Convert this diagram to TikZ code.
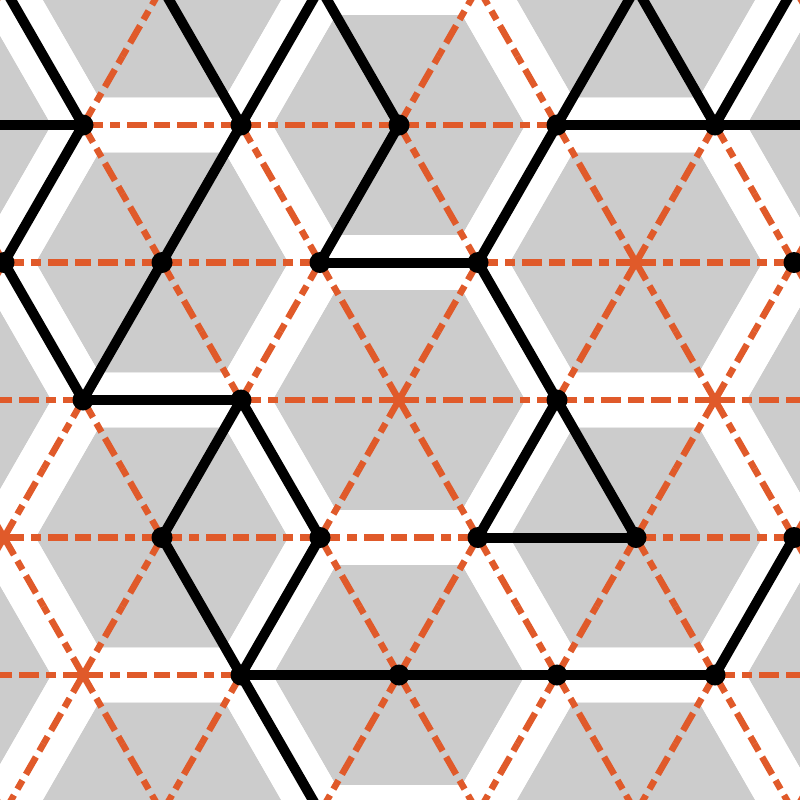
\documentclass[tikz,border=0pt]{standalone}
\usetikzlibrary{calc}
\definecolor{bggray}{HTML}{CCCCCC}
\definecolor{lorange}{HTML}{E05A2A}
\tikzset{
  band/.style={draw=white, line width=41pt, line join=miter},
  latt/.style={draw=lorange, line width=4.9pt, dash pattern=on 15pt off 5.25pt on 7.5pt off 5.25pt},
  bond/.style={draw=black, line width=7.5pt, line cap=round, line join=round},
  site/.style={circle, fill=black, inner sep=0pt, minimum size=15.75pt},
}
\begin{document}
\begin{tikzpicture}[x=0.75pt,y=-0.75pt]
\fill[bggray] (0,0) rectangle (800,800);
\useasboundingbox (0,0) rectangle (800,800);
\clip (0,0) rectangle (800,800);
% lattice sites, named v<n>r<row>
\foreach \r in {-2,...,8}{
  \foreach \n in {-6,...,16}{
    \pgfmathtruncatemacro\pty{mod(abs(\n-\r),2)}
    \ifnum\pty=0
      \coordinate (v\n r\r) at ({4+79*\n},{-12.5+137.5*\r});
    \fi
  }
}
% white bands: hexagons around the A sublattice
\foreach \n/\r in {-4/0,2/0,8/0,14/0,-4/2,2/2,8/2,14/2,-4/4,2/4,8/4,14/4,-4/6,2/6,8/6,14/6,
                   -1/-1,5/-1,11/-1,-1/1,5/1,11/1,-1/3,5/3,11/3,-1/5,5/5,11/5,-1/7,5/7,11/7}{
  \pgfmathtruncatemacro\na{\n+2}
  \pgfmathtruncatemacro\nb{\n+1}
  \pgfmathtruncatemacro\nc{\n-1}
  \pgfmathtruncatemacro\nd{\n-2}
  \pgfmathtruncatemacro\ru{\r-1}
  \pgfmathtruncatemacro\rd{\r+1}
  \draw[band] (v\na r\r) -- (v\nb r\ru) -- (v\nc r\ru) -- (v\nd r\r) -- (v\nc r\rd) -- (v\nb r\rd) -- cycle;
}
% orange dashed lattice, drawn in halves from each site
\foreach \r in {-1,...,7}{
  \foreach \n in {-3,...,13}{
    \pgfmathtruncatemacro\pty{mod(abs(\n-\r),2)}
    \ifnum\pty=0
      \pgfmathtruncatemacro\na{\n+2}
      \pgfmathtruncatemacro\nb{\n+1}
      \pgfmathtruncatemacro\nc{\n-1}
      \pgfmathtruncatemacro\nd{\n-2}
      \pgfmathtruncatemacro\ru{\r-1}
      \pgfmathtruncatemacro\rd{\r+1}
      \foreach \a/\b in {\na/\r,\nd/\r,\nb/\ru,\nc/\ru,\nb/\rd,\nc/\rd}{
        \draw[latt] (v\n r\r) -- ($(v\n r\r)!0.5!(v\a r\b)$);
      }
    \fi
  }
}
% black bonds
\foreach \a/\b in {0r0/1r1, -1r1/1r1, 1r1/0r2, 2r0/3r1, 3r1/4r0, 3r1/2r2,
                   2r2/1r3, 0r2/1r3, 4r0/5r1, 5r1/4r2, 4r2/6r2, 6r2/7r1,
                   7r1/9r1, 7r1/8r0, 8r0/9r1, 9r1/10r0, 9r1/11r1, 6r2/7r3,
                   7r3/6r4, 6r4/8r4, 8r4/7r3, 1r3/3r3, 3r3/2r4, 3r3/4r4,
                   2r4/3r5, 4r4/3r5, 3r5/5r5, 5r5/7r5, 7r5/9r5, 9r5/10r4,
                   3r5/4r6}{
  \draw[bond] (v\a) -- (v\b);
}
% dots
\foreach \p in {1r1, 3r1, 5r1, 7r1, 9r1, 0r2, 2r2, 4r2, 6r2, 10r2, 1r3, 3r3,
                7r3, 2r4, 4r4, 6r4, 8r4, 10r4, 3r5, 5r5, 7r5, 9r5}{
  \node[site] (dot\p) at (v\p) {};
}
\end{tikzpicture}
\end{document}
